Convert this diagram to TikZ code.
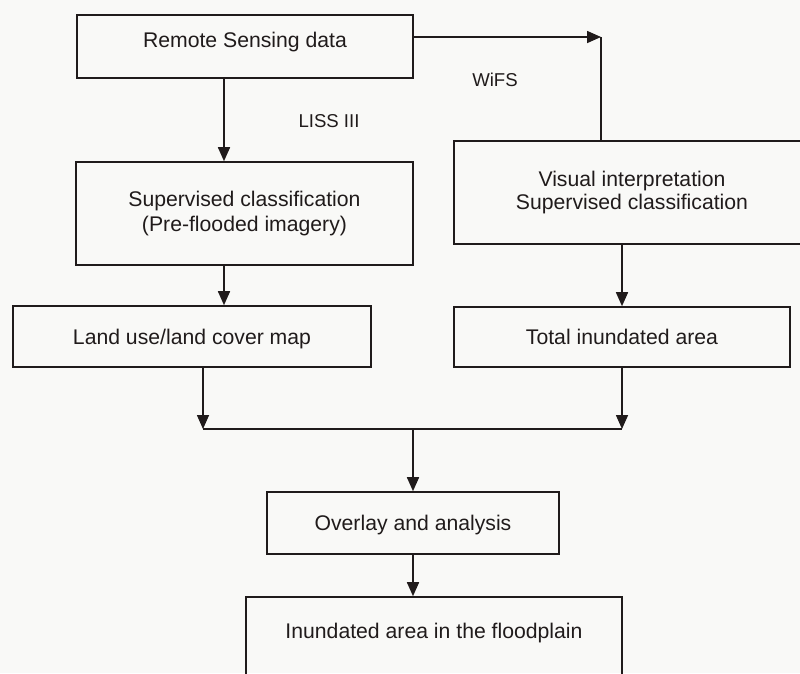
\documentclass[tikz,border=0pt]{standalone}
\usepackage{fontspec}
\setmainfont{Liberation Sans}
\usetikzlibrary{arrows.meta}
\definecolor{ink}{RGB}{32,27,27}
\definecolor{paper}{RGB}{249,249,247}
\begin{document}
\begin{tikzpicture}[x=1pt,y=-1pt,
  box/.style={draw=ink, line width=1.6pt, inner sep=0pt, text=ink,
    font=\fontsize{21.2}{25}\selectfont, align=center},
  one/.style={text height=15.2pt, text depth=0pt},
  lbl/.style={inner sep=0pt, text=ink, font=\fontsize{18.6}{22}\selectfont},
  conn/.style={draw=ink, line width=1.6pt},
  arr/.style={conn, -{Triangle[length=14pt,width=12pt]}}]
\useasboundingbox (0,0) rectangle (800,673);
\fill[paper] (0,0) rectangle (800,673);
\clip (0,0) rectangle (800,673);

\node[box, one, text depth=13pt, minimum width=336pt, minimum height=63pt] (rs) at (245,46.5) {Remote Sensing data};
\node[box, minimum width=337pt, minimum height=103pt, font=\fontsize{21.2}{25.7}\selectfont] (sup) at (244.5,213.5) {Supervised classification\\(Pre-flooded imagery)};
\node[box, minimum width=356pt, minimum height=103pt, font=\fontsize{21.2}{23.6}\selectfont] (vis) at (632,192.5) {Visual interpretation\\Supervised classification};
\node[box, one, minimum width=358pt, minimum height=61pt] (land) at (192,336.5) {Land use/land cover map};
\node[box, one, minimum width=336pt, minimum height=60pt] (tot) at (622,337) {Total inundated area};
\node[box, one, minimum width=292pt, minimum height=62pt] (ov) at (413,523) {Overlay and analysis};
\node[box, one, text depth=35pt, minimum width=376pt, minimum height=103pt] (fin) at (434,648.5) {Inundated area in the floodplain};

\node[lbl] (liss) at (329,121) {LISS III};
\node[lbl] (wifs) at (495,80) {WiFS};

\coordinate (c1) at (601,37);
\coordinate (jL) at (203,429);
\coordinate (jR) at (622,429);
\coordinate (jM) at (413,429);

\draw[arr] ([xshift=-21pt]rs.south) -- ([xshift=-21pt]rs.south |- sup.north);
\draw[arr] (rs.east |- c1) -- (c1);
\draw[conn] (c1) -- (c1 |- vis.north);
\draw[arr] ([xshift=-20.5pt]sup.south) -- ([xshift=-20.5pt]sup.south |- land.north);
\draw[arr] (tot.north |- vis.south) -- (tot.north);
\draw[arr] (jL |- land.south) -- (jL);
\draw[arr] (jR |- tot.south) -- (jR);
\draw[conn] (jL) -- (jR);
\draw[arr] (jM) -- (ov.north);
\draw[arr] (ov.south) -- (ov.south |- fin.north);
\end{tikzpicture}
\end{document}
